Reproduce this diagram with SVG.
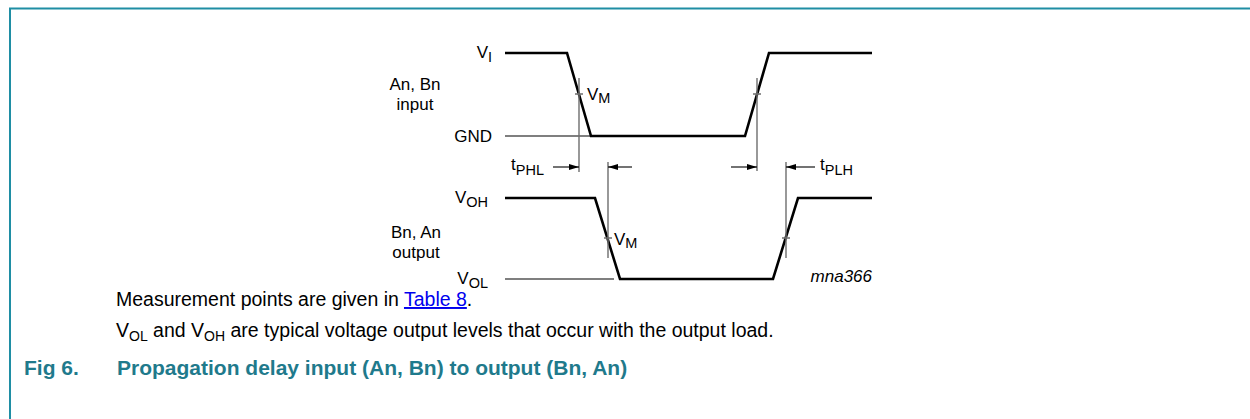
<svg xmlns="http://www.w3.org/2000/svg" width="1250" height="419" viewBox="0 0 1250 419">
<style>
text{font-family:"Liberation Sans",Arial,sans-serif;fill:#000}
.lbl{font-size:17px}
.sub{font-size:14.5px}
.wave{fill:none;stroke:#000;stroke-width:2.6;stroke-linejoin:miter}
.ref{fill:none;stroke:#000;stroke-width:1.1}
.meas{fill:none;stroke:#6e6e6e;stroke-width:1.4}
.arr{fill:none;stroke:#000;stroke-width:1.1}
.frame{stroke:#1f8ea4;stroke-width:2;fill:none}
.body{font-size:19.5px}
.bsub{font-size:14px}
.cap{font-size:21px;font-weight:bold;fill:#1f7a8c}
</style>
<defs>
<marker id="ah" viewBox="0 0 10 6" refX="10" refY="3" markerWidth="10" markerHeight="6" markerUnits="userSpaceOnUse" orient="auto">
<path d="M0,0 L10,3 L0,6 z" fill="#000"/>
</marker>
</defs>
<g id="frame">
<path class="frame" d="M10,419 V8.5 H1250"/>
</g>
<g id="input-wave">
<path class="ref" d="M505,136 H590"/>
<path class="wave" d="M505,53 H567 L591,136 H745 L769,53 H872"/>
</g>
<g id="output-wave">
<path class="ref" d="M505,279 H614"/>
<path class="wave" d="M505,198 H595 L620,279 H773 L798,198 H872"/>
</g>
<g id="connectors">
<path class="meas" d="M579,78 V172 M575,94 H583"/>
<path class="meas" d="M757,78 V171 M753,94 H761"/>
<path class="meas" d="M608,162 V258 M604,238 H612"/>
<path class="meas" d="M786,162 V258 M782,238 H790"/>
<path class="arr" d="M553,167 H579" marker-end="url(#ah)"/>
<path class="arr" d="M632,167 H608" marker-end="url(#ah)"/>
<path class="arr" d="M731,167 H757" marker-end="url(#ah)"/>
<path class="arr" d="M815,167 H786" marker-end="url(#ah)"/>
</g>
<g id="labels">
<text class="lbl" x="492" y="58" text-anchor="end">V<tspan class="sub" dy="4">I</tspan></text>
<text class="lbl" x="415" y="90" text-anchor="middle">An, Bn</text>
<text class="lbl" x="415" y="110" text-anchor="middle">input</text>
<text class="lbl" x="492" y="142" text-anchor="end">GND</text>
<text class="lbl" x="587" y="100">V<tspan class="sub" dy="3">M</tspan></text>
<text class="lbl" x="511" y="170">t<tspan class="sub" dy="5">PHL</tspan></text>
<text class="lbl" x="820" y="170">t<tspan class="sub" dy="5">PLH</tspan></text>
<text class="lbl" x="488" y="203" text-anchor="end">V<tspan class="sub" dy="4">OH</tspan></text>
<text class="lbl" x="416" y="238" text-anchor="middle">Bn, An</text>
<text class="lbl" x="416" y="258" text-anchor="middle">output</text>
<text class="lbl" x="614" y="245">V<tspan class="sub" dy="3">M</tspan></text>
<text class="lbl" x="488" y="284" text-anchor="end">V<tspan class="sub" dy="4">OL</tspan></text>
<text class="lbl" x="872" y="282" text-anchor="end" font-style="italic" font-size="15">mna366</text>
</g>
<g id="notes">
<text class="body" x="116" y="306">Measurement points are given in <tspan fill="#0000ee" text-decoration="underline">Table 8</tspan>.</text>
<text class="body" x="116" y="337">V<tspan class="bsub" dy="4">OL</tspan><tspan dy="-4"> and V</tspan><tspan class="bsub" dy="4">OH</tspan><tspan dy="-4"> are typical voltage output levels that occur with the output load.</tspan></text>
<text class="cap" x="24" y="375">Fig 6.</text>
<text class="cap" x="117" y="375">Propagation delay input (An, Bn) to output (Bn, An)</text>
</g>
</svg>
